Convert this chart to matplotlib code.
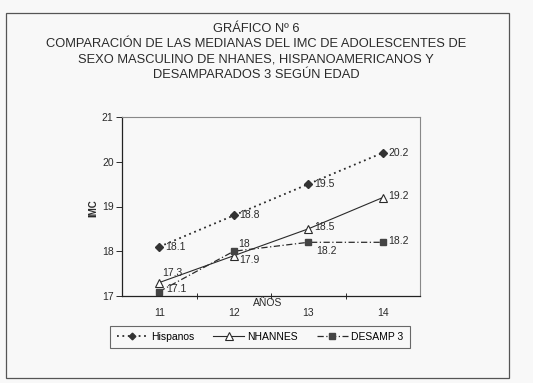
import matplotlib
matplotlib.use("Agg")
import matplotlib.pyplot as plt
from matplotlib.patches import Rectangle

plt.rcParams['font.family'] = ['Liberation Sans', 'DejaVu Sans']

ages = ["11", "12", "13", "14"]
hispanos = [18.1, 18.8, 19.5, 20.2]
nhannes = [17.3, 17.9, 18.5, 19.2]
desamp = [17.1, 18.0, 18.2, 18.2]
hisp_lbl = ["18.1", "18.8", "19.5", "20.2"]
nhan_lbl = ["17.3", "17.9", "18.5", "19.2"]
des_lbl = ["17.1", "18", "18.2", "18.2"]
yticks = [17, 18, 19, 20, 21]

title = ("GRÁFICO Nº 6\nCOMPARACIÓN DE LAS MEDIANAS DEL IMC DE ADOLESCENTES DE\n"
         "SEXO MASCULINO DE NHANES, HISPANOAMERICANOS Y\nDESAMPARADOS 3 SEGÚN EDAD")

W, H = 533, 383
bg = '#f8f8f8'
ink = '#2a2a2a'
fig = plt.figure(figsize=(W / 100, H / 100), dpi=100, facecolor=bg)

# outer frame
fig.patches.append(Rectangle((6 / W, 1 - 378 / H), (509 - 6) / W, (378 - 13) / H,
                             transform=fig.transFigure, fill=False,
                             edgecolor='#555555', lw=0.9))

fig.text(256 / W, 1 - 52 / H, title, ha='center', va='center', fontsize=9.3,
         color=ink, linespacing=1.36)

ax = fig.add_axes([122 / W, 1 - 296 / H, (420 - 122) / W, (296 - 117) / H])
ax.set_facecolor(bg)
x = list(range(len(ages)))

ax.plot(x, hispanos, linestyle=(0, (1, 2)), color=ink, lw=1.3, marker='D',
        markersize=4, markerfacecolor='#333333', markeredgecolor='#333333', label='Hispanos')
ax.plot(x, nhannes, linestyle='-', color=ink, lw=0.8, marker='^', markersize=6,
        markerfacecolor='white', markeredgecolor=ink, markeredgewidth=0.8, label='NHANNES')
ax.plot(x, desamp, linestyle=(0, (5, 2, 1, 2)), color=ink, lw=0.9, marker='s',
        markersize=5, markerfacecolor='#444444', markeredgecolor='#444444', label='DESAMP 3')

fs = 7.5
for i, (v, t) in enumerate(zip(hispanos, hisp_lbl)):
    ax.annotate(t, (i, v), xytext=(4, 0), textcoords='offset points', va='center',
                ha='left', fontsize=fs, color=ink)
nh_off = [(2, 7), (4, -3), (4, 1), (4, 1)]
for i, (v, t) in enumerate(zip(nhannes, nhan_lbl)):
    ax.annotate(t, (i, v), xytext=nh_off[i], textcoords='offset points', va='center',
                ha='left', fontsize=fs, color=ink)
ds_off = [(5, 2), (3, 5), (6, -6), (4, 1)]
for i, (v, t) in enumerate(zip(desamp, des_lbl)):
    ax.annotate(t, (i, v), xytext=ds_off[i], textcoords='offset points', va='center',
                ha='left', fontsize=fs, color=ink)

ax.set_xlim(-0.5, len(ages) - 0.5)
ax.set_ylim(17, 21)
ax.set_yticks(yticks)
ax.set_yticklabels([str(t) for t in yticks], fontsize=7.5, color=ink)
ax.set_xticks([i + 0.5 for i in range(len(ages) - 1)], minor=False)
ax.set_xticklabels([])
ax.set_xticks(x, minor=True)
ax.set_xticklabels(ages, minor=True, fontsize=7.5, color=ink)
ax.tick_params(axis='x', which='major', direction='inout', length=4, width=0.7, colors=ink)
ax.tick_params(axis='x', which='minor', length=0, pad=9)
ax.tick_params(axis='y', direction='out', length=4, width=0.7, colors=ink, pad=2)

for s in ['left', 'bottom']:
    ax.spines[s].set_color('#222222')
    ax.spines[s].set_linewidth(0.9)
for s in ['top', 'right']:
    ax.spines[s].set_color('#888888')
    ax.spines[s].set_linewidth(0.8)

fig.text(93 / W, 1 - 208 / H, "IMC", rotation=90, ha='center', va='center',
         fontsize=7, fontweight='bold', color=ink)
fig.text(268 / W, 1 - 303 / H, "AÑOS", ha='center', va='center', fontsize=7.5, color=ink)

handles, labels = ax.get_legend_handles_labels()
leg = fig.legend(handles, labels, loc='center', bbox_to_anchor=(260 / W, 1 - 337 / H),
                 ncol=3, fontsize=7.5, frameon=True, fancybox=False, handlelength=3.0,
                 columnspacing=1.8, borderpad=0.6, handletextpad=0.3, markerscale=0.85)
leg.get_frame().set_edgecolor('#444444')
leg.get_frame().set_linewidth(0.8)
leg.get_frame().set_facecolor(bg)

fig.savefig("out.png", dpi=100, facecolor=bg)
